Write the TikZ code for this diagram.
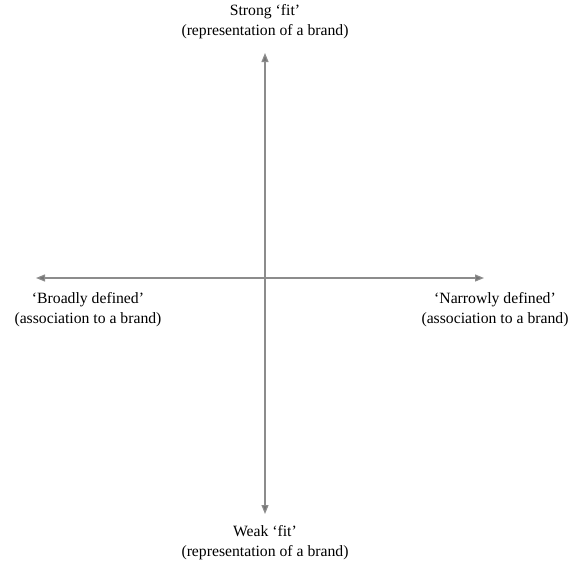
\documentclass[tikz,border=0pt]{standalone}
\usepackage{fontspec}
\setmainfont{Liberation Serif}
\usetikzlibrary{arrows.meta}
\begin{document}
\begin{tikzpicture}[x=1pt,y=-1pt,
  axis/.style={draw=black!45,line width=1.2pt,-{Triangle[length=9pt,width=7pt,fill=black!55]}},
  lbl/.style={align=center,font=\fontsize{15.7}{20}\selectfont,inner sep=0pt}]
\useasboundingbox (0,0) rectangle (568,565);
\coordinate (o) at (265,278);
\coordinate (top) at (265,53);
\coordinate (bot) at (265,514);
\coordinate (lft) at (36,278);
\coordinate (rgt) at (484,278);
\draw[axis] (o) -- (top);
\draw[axis] (o) -- (bot);
\draw[axis] (o) -- (lft);
\draw[axis] (o) -- (rgt);
\node[lbl] (tl) at (265,22) {Strong `fit'\\(representation of a brand)};
\node[lbl] (bl) at (265,543) {Weak `fit'\\(representation of a brand)};
\node[lbl] (ll) at (88,310) {`Broadly defined'\\(association to a brand)};
\node[lbl] (rl) at (495,310) {`Narrowly defined'\\(association to a brand)};
\end{tikzpicture}
\end{document}
